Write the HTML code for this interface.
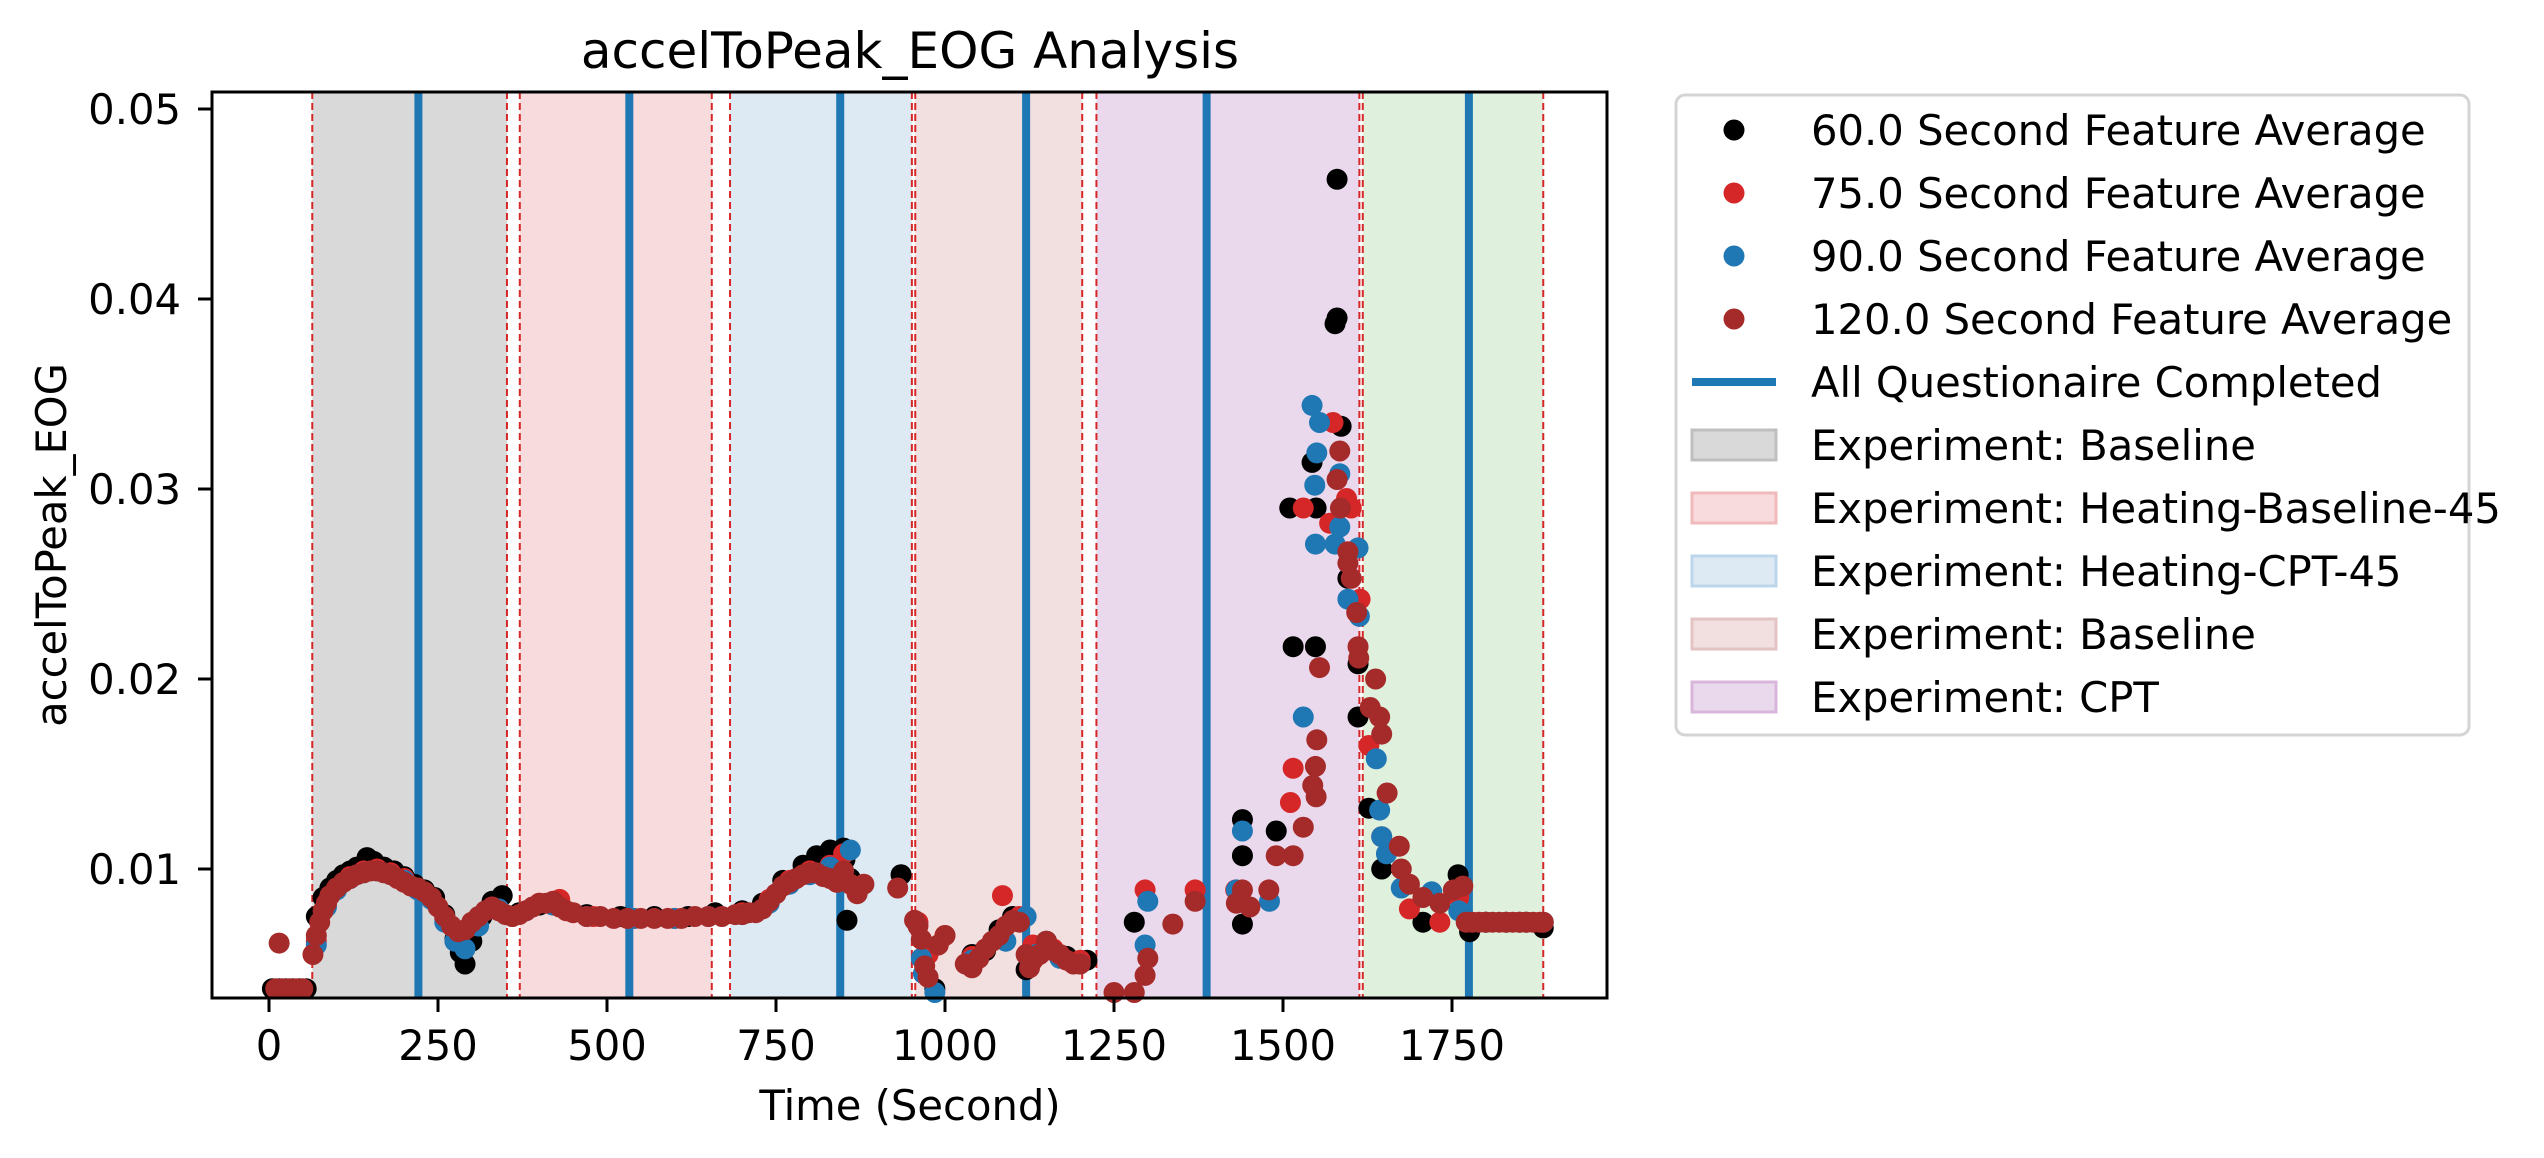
<!DOCTYPE html>
<html><head><meta charset="utf-8"><style>
html,body{margin:0;padding:0;background:#fff;}
svg{display:block;font-family:"DejaVu Sans","Liberation Sans",sans-serif;}
</style></head><body>
<svg id="chart" width="2544" height="1158" viewBox="0 0 2544 1158" xmlns="http://www.w3.org/2000/svg">
<rect x="0" y="0" width="2544" height="1158" fill="#fff"/>
<g id="regions"></g>
<g id="vlines"></g>
<g id="points"></g>
<rect x="212" y="92" width="1395" height="906" fill="none" stroke="#000" stroke-width="3"/>
<g id="xticks"></g>
<g id="yticks"></g>
<text x="910" y="68" font-size="50" text-anchor="middle">accelToPeak_EOG Analysis</text>
<text x="910" y="1120" font-size="41.7" text-anchor="middle">Time (Second)</text>
<text transform="translate(66,545) rotate(-90)" font-size="41.7" text-anchor="middle">accelToPeak_EOG</text>
<g id="legend"></g>
</svg>
<script>
const xTicks=[0,250,500,750,1000,1250,1500,1750];
const yTicks=[0.01,0.02,0.03,0.04,0.05];
const yTickLabels=["0.01","0.02","0.03","0.04","0.05"];
const regionStarts=[64,371,682,956,1224,1618];
const regionEnds=[352,655,951,1203,1613,1885];
const regionLabels=["Experiment: Baseline","Experiment: Heating-Baseline-45","Experiment: Heating-CPT-45","Experiment: Baseline","Experiment: CPT",""];
const questionnaireTimes=[221,533,845,1120,1387,1775];
const s60t=[5,15,25,35,45,55,70,80,90,100,110,120,130,145,155,170,185,200,215,230,245,260,275,283,290,300,315,330,345,370,400,430,470,520,570,620,660,700,730,760,790,810,830,850,852,855,860,935,985,1040,1060,1080,1100,1120,1150,1180,1210,1280,1440,1440,1440,1490,1510,1515,1543,1548,1549,1577,1580,1580,1586,1596,1611,1611,1627,1646,1707,1759,1776,1800,1830,1860,1885];
const s60v=[0.0037,0.0037,0.0037,0.0037,0.0037,0.0037,0.0075,0.0085,0.009,0.0094,0.0097,0.0099,0.0101,0.0106,0.0104,0.0101,0.0099,0.0096,0.0092,0.0089,0.0085,0.0076,0.0063,0.0056,0.005,0.0062,0.0075,0.0083,0.0086,0.0077,0.0081,0.0082,0.0076,0.0075,0.0075,0.0075,0.0077,0.0078,0.0082,0.0094,0.0102,0.0107,0.011,0.0111,0.0105,0.0073,0.0095,0.0097,0.0037,0.0055,0.0057,0.0068,0.0075,0.0047,0.0062,0.0054,0.0052,0.0072,0.0126,0.0107,0.0071,0.012,0.029,0.0217,0.0314,0.0217,0.029,0.0387,0.0463,0.039,0.0333,0.0253,0.0208,0.018,0.0132,0.01,0.0072,0.0097,0.0067,0.0072,0.0072,0.0072,0.0069];
const s75t=[15,70,85,100,120,140,160,180,200,220,240,260,280,300,330,360,400,430,480,540,600,650,700,740,770,800,830,850,960,975,1000,1040,1085,1110,1130,1160,1200,1296,1370,1430,1511,1515,1530,1569,1574,1594,1601,1614,1627,1646,1687,1732,1760,1800,1850];
const s75v=[0.0037,0.0062,0.0082,0.009,0.0096,0.0099,0.01,0.0098,0.0095,0.009,0.0085,0.0074,0.0066,0.007,0.008,0.0075,0.0082,0.0084,0.0075,0.0074,0.0074,0.0075,0.0077,0.0084,0.0094,0.0099,0.0102,0.0108,0.0072,0.0055,0.0065,0.0054,0.0086,0.0075,0.006,0.0058,0.0052,0.0089,0.0089,0.0089,0.0135,0.0153,0.029,0.0282,0.0335,0.0295,0.029,0.0242,0.0165,0.0117,0.0079,0.0072,0.0085,0.0072,0.0072];
const s90t=[15,70,85,100,120,140,160,180,200,220,240,260,275,290,310,340,380,420,470,540,600,650,700,740,770,800,830,860,965,968,985,1040,1090,1120,1135,1170,1200,1296,1300,1431,1440,1480,1530,1543,1547,1548,1550,1554,1577,1584,1584,1596,1611,1613,1638,1643,1646,1653,1675,1720,1760,1800,1850,1885];
const s90v=[0.0037,0.006,0.008,0.0089,0.0095,0.0098,0.0099,0.0097,0.0094,0.0089,0.0084,0.0072,0.0062,0.0058,0.007,0.0079,0.0078,0.0081,0.0075,0.0074,0.0074,0.0075,0.0076,0.0082,0.0092,0.0097,0.0101,0.011,0.0053,0.0045,0.0035,0.0052,0.0062,0.0075,0.0055,0.0053,0.005,0.006,0.0083,0.0089,0.012,0.0083,0.018,0.0344,0.0302,0.0271,0.0319,0.0335,0.0271,0.0308,0.028,0.0242,0.0269,0.0233,0.0158,0.0131,0.0117,0.0108,0.009,0.0088,0.0078,0.0072,0.0072,0.0072];
const s120t=[10,15,20,30,40,50,65,70,75,80,85,90,100,110,120,130,140,150,160,170,180,190,200,210,220,230,240,250,260,270,280,290,300,310,320,330,340,350,360,370,380,390,400,410,420,430,440,450,470,490,510,530,550,570,590,610,630,650,670,690,700,710,720,730,740,750,760,770,780,790,800,810,820,830,840,850,860,870,880,930,955,960,965,970,975,990,1000,1030,1040,1050,1060,1070,1080,1090,1100,1110,1120,1125,1130,1140,1150,1160,1170,1180,1190,1200,1250,1280,1296,1300,1337,1370,1431,1440,1451,1479,1490,1515,1530,1544,1548,1549,1550,1554,1580,1584,1585,1596,1596,1601,1609,1611,1612,1629,1637,1643,1646,1654,1672,1675,1687,1707,1732,1752,1766,1771,1780,1790,1800,1810,1820,1830,1840,1850,1860,1870,1880,1885];
const s120v=[0.0037,0.0061,0.0037,0.0037,0.0037,0.0037,0.0055,0.0065,0.0072,0.0078,0.0082,0.0086,0.009,0.0093,0.0095,0.0097,0.0098,0.0099,0.0099,0.0098,0.0097,0.0095,0.0093,0.0091,0.009,0.0088,0.0085,0.008,0.0075,0.007,0.0067,0.0068,0.0072,0.0075,0.0078,0.008,0.0078,0.0076,0.0075,0.0076,0.0078,0.008,0.0082,0.0082,0.0083,0.008,0.0078,0.0077,0.0075,0.0075,0.0074,0.0074,0.0074,0.0074,0.0074,0.0074,0.0075,0.0075,0.0075,0.0076,0.0076,0.0077,0.0077,0.0079,0.0083,0.0087,0.0091,0.0093,0.0095,0.0097,0.0098,0.0098,0.0096,0.0095,0.0093,0.0099,0.0092,0.0087,0.0092,0.009,0.0073,0.007,0.0063,0.0049,0.0043,0.006,0.0065,0.005,0.0048,0.0053,0.0058,0.0062,0.0065,0.007,0.0073,0.0072,0.0055,0.0048,0.0052,0.0055,0.0062,0.0057,0.0055,0.0052,0.005,0.005,0.0035,0.0035,0.0044,0.0053,0.0071,0.0083,0.0082,0.0089,0.008,0.0089,0.0107,0.0107,0.0122,0.0144,0.0154,0.0138,0.0168,0.0206,0.0305,0.032,0.029,0.0267,0.0261,0.0253,0.0235,0.0217,0.0211,0.0185,0.02,0.018,0.0171,0.014,0.0112,0.01,0.0092,0.0085,0.0082,0.0089,0.0091,0.0072,0.0072,0.0072,0.0072,0.0072,0.0072,0.0072,0.0072,0.0072,0.0072,0.0072,0.0072,0.0072];

const NS="http://www.w3.org/2000/svg";
const X0=212,X1=1607,Y0=92,Y1=998;
function xs(t){return 269+t*0.676;}
function ys(v){return 109+(0.05-v)*19000;}
function mk(tag,attrs,parent){const e=document.createElementNS(NS,tag);for(const k in attrs)e.setAttribute(k,attrs[k]);parent.appendChild(e);return e;}

const fills=["#d9d9d9","#f8dcdd","#dde9f3","#f2dfdf","#ead9ec","#dff0dd"];
const edges=["#bfbfbf","#f0b9bb","#bdd6eb","#e3c3c3","#d8b5db","#c4e3c0"];
const rg=document.getElementById('regions');
for(let i=0;i<regionStarts.length;i++){
  const r=mk('rect',{x:xs(regionStarts[i]),y:Y0,width:xs(regionEnds[i])-xs(regionStarts[i]),height:Y1-Y0,fill:fills[i]},rg);
  
  
  [regionStarts[i],regionEnds[i]].forEach(t=>{
    const l=mk('line',{x1:xs(t),x2:xs(t),y1:Y0,y2:Y1,stroke:'#d62728','stroke-width':2,'stroke-dasharray':'7,4'},rg);
    
    
  });
}
const vg=document.getElementById('vlines');
questionnaireTimes.forEach(t=>{
  const l=mk('line',{x1:xs(t),x2:xs(t),y1:Y0,y2:Y1,stroke:'#1f77b4','stroke-width':8},vg);
  
  
});
const pg=document.getElementById('points');
const series=[[s60t,s60v,'#000000','points-60s'],[s75t,s75v,'#d62728','points-75s'],[s90t,s90v,'#1f77b4','points-90s'],[s120t,s120v,'#a52a2a','points-120s']];
series.forEach(s=>{
  const g=mk('g',{},pg);
  
  
  for(let i=0;i<s[0].length;i++){
    const c=mk('circle',{cx:xs(s[0][i]),cy:ys(s[1][i]),r:10.5,fill:s[2]},g);
    
    
  }
});
const xg=document.getElementById('xticks');
xTicks.forEach(t=>{
  const l=mk('line',{x1:xs(t),x2:xs(t),y1:Y1,y2:Y1+14,stroke:'#000','stroke-width':3},xg);
  
  
  const tx=mk('text',{x:xs(t),y:1060,'font-size':41.7,'text-anchor':'middle'},xg);
  tx.textContent=t;
  
  
});
const yg=document.getElementById('yticks');
yTicks.forEach((v,i)=>{
  const l=mk('line',{x1:X0-14,x2:X0,y1:ys(v),y2:ys(v),stroke:'#000','stroke-width':3},yg);
  
  
  const tx=mk('text',{x:181,y:ys(v)+15,'font-size':41.7,'text-anchor':'end'},yg);
  tx.textContent=yTickLabels[i];
  
  
});
const lg=document.getElementById('legend');
const box=mk('rect',{x:1676,y:95,width:793,height:640,rx:9,fill:'#fff',stroke:'#d4d4d4','stroke-width':3},lg);


const legTexts=["60.0 Second Feature Average","75.0 Second Feature Average","90.0 Second Feature Average","120.0 Second Feature Average","All Questionaire Completed"].concat(regionLabels.slice(0,5));
legTexts.forEach((txt,i)=>{
  const cy=130+i*63;
  if(i<4){
    const c=mk('circle',{cx:1734,cy:cy,r:10.5,fill:series[i][2]},lg);
    
    
  }else if(i==4){
    const l=mk('line',{x1:1692,x2:1776,y1:cy,y2:cy,stroke:'#1f77b4','stroke-width':8},lg);
    
    
  }else{
    const r=mk('rect',{x:1692,y:cy-15,width:84,height:30,fill:fills[i-5],stroke:edges[i-5],'stroke-width':3},lg);
    
    
  }
  const t=mk('text',{x:1811,y:cy+15,'font-size':41.7},lg);
  t.textContent=txt;
  
  
});
</script>
</body></html>
